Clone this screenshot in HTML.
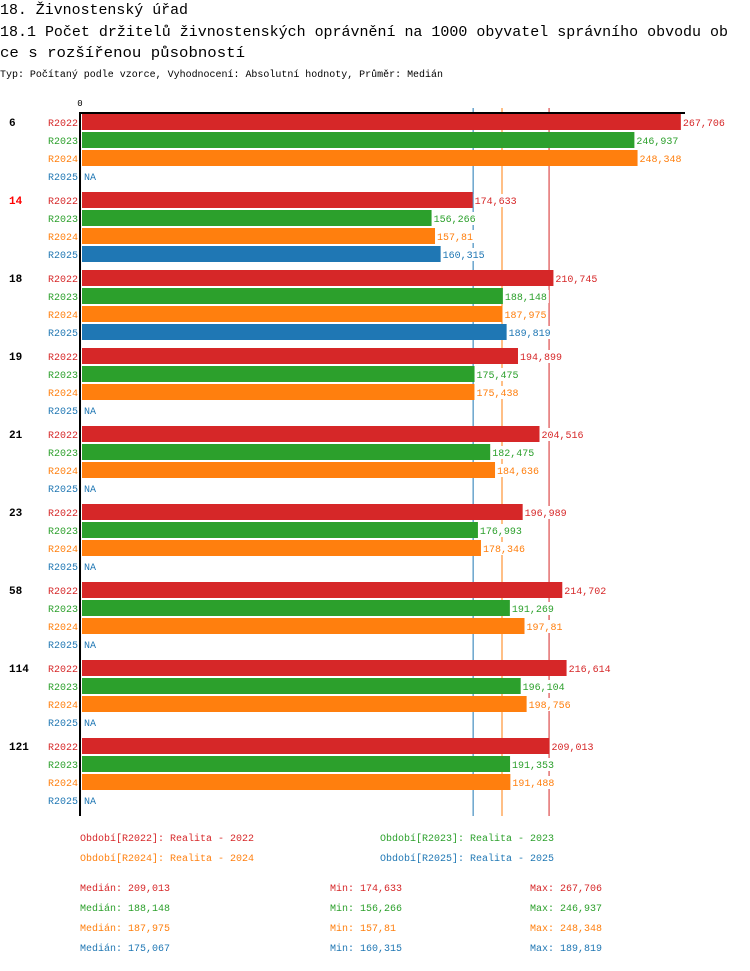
<!DOCTYPE html>
<html><head><meta charset="utf-8"><style>
html,body{margin:0;padding:0;background:#fff;}
svg text{font-family:"Liberation Mono","DejaVu Sans Mono",monospace;}
</style></head><body>
<svg id="chart" width="750" height="966" xmlns="http://www.w3.org/2000/svg">
<text x="0" y="14" font-size="15" textLength="188" lengthAdjust="spacingAndGlyphs">18. Živnostenský úřad</text>
<text x="0" y="36" font-size="15" textLength="728" lengthAdjust="spacingAndGlyphs">18.1 Počet držitelů živnostenských oprávnění na 1000 obyvatel správního obvodu ob</text>
<text x="0" y="57" font-size="15" textLength="245" lengthAdjust="spacingAndGlyphs">ce s rozšířenou působností</text>
<text x="0" y="77" font-size="10" textLength="443" lengthAdjust="spacingAndGlyphs">Typ: Počítaný podle vzorce, Vyhodnocení: Absolutní hodnoty, Průměr: Medián</text>
<g id="plot"></g>
<g id="legend"></g>
</svg>
<script>
const categories = ["6","14","18","19","21","23","58","114","121"];
const highlighted = ["14"];
const seriesNames = ["R2022","R2023","R2024","R2025"];
const colors = ["#d62728","#2ca02c","#ff7f0e","#1f77b4"];
const r2022 = [267.706,174.633,210.745,194.899,204.516,196.989,214.702,216.614,209.013];
const r2023 = [246.937,156.266,188.148,175.475,182.475,176.993,191.269,196.104,191.353];
const r2024 = [248.348,157.81,187.975,175.438,184.636,178.346,197.81,198.756,191.488];
const r2025 = [null,160.315,189.819,null,null,null,null,null,null];
const series = [r2022,r2023,r2024,r2025];
const medians = [209.013,188.148,187.975,175.067];
const mins = [174.633,156.266,157.81,160.315];
const maxs = [267.706,246.937,248.348,189.819];
const periodLabels = ["Realita - 2022","Realita - 2023","Realita - 2024","Realita - 2025"];

const NS="http://www.w3.org/2000/svg";
const plot=document.getElementById('plot');
const x0=82, scale=2.237;
const xs=v=>x0+v*scale;
const groupTop=g=>114+g*78;
const fmt=v=>String(v).replace('.',',');
function mk(tag,attrs,parent){const e=document.createElementNS(NS,tag);for(const k in attrs)e.setAttribute(k,attrs[k]);parent.appendChild(e);return e;}

let t=mk('text',{x:80,y:106,'font-size':9,'text-anchor':'middle'},plot);t.textContent='0';



// median lines (behind bars)
[3,2,0].forEach(i=>{
  const m=mk('line',{x1:xs(medians[i])-0.5,y1:108,x2:xs(medians[i])-0.5,y2:816,stroke:colors[i],'stroke-width':1},plot);
  
  
});

let l=mk('line',{x1:80,y1:113,x2:685,y2:113,stroke:'#000','stroke-width':2},plot);



categories.forEach((c,g)=>{
  const top=groupTop(g);
  const gl=mk('text',{x:9,y:top+12,'font-size':11,'font-weight':'bold',fill:highlighted.includes(c)?'#f00':'#000'},plot);
  gl.textContent=c;
  
  
  series.forEach((s,i)=>{
    const y=top+i*18;
    const sl=mk('text',{x:78,y:y+12,'font-size':10,'text-anchor':'end',fill:colors[i]},plot);
    sl.textContent=seriesNames[i];
    
    
    const v=s[g];
    if(v==null){
      const na=mk('text',{x:84,y:y+12,'font-size':10,fill:colors[i]},plot);
      na.textContent='NA';
      
      
    }else{
      const r=mk('rect',{x:x0,y:y,width:xs(v)-x0,height:16,fill:colors[i]},plot);
      
      
      const bg=mk('rect',{x:xs(v)+1,y:y+2,width:fmt(v).length*6+3,height:13,fill:'#fff'},plot);
      
      
      const vl=mk('text',{x:xs(v)+2,y:y+12,'font-size':10,fill:colors[i]},plot);
      vl.textContent=fmt(v);
      
      
    }
  });
});
l=mk('line',{x1:80,y1:112,x2:80,y2:816,stroke:'#000','stroke-width':2},plot);



const lg=document.getElementById('legend');
seriesNames.forEach((n,i)=>{
  const e=mk('text',{x:i%2?380:80,y:841+Math.floor(i/2)*20,'font-size':10,fill:colors[i]},lg);
  e.textContent='Období['+n+']: '+periodLabels[i];
  
  
  const y=891+i*20;
  const a=mk('text',{x:80,y:y,'font-size':10,fill:colors[i]},lg);a.textContent='Medián: '+fmt(medians[i]);
  
  
  const b=mk('text',{x:330,y:y,'font-size':10,fill:colors[i]},lg);b.textContent='Min: '+fmt(mins[i]);
  
  
  const d=mk('text',{x:530,y:y,'font-size':10,fill:colors[i]},lg);d.textContent='Max: '+fmt(maxs[i]);
  
  
});
</script>
</body></html>
